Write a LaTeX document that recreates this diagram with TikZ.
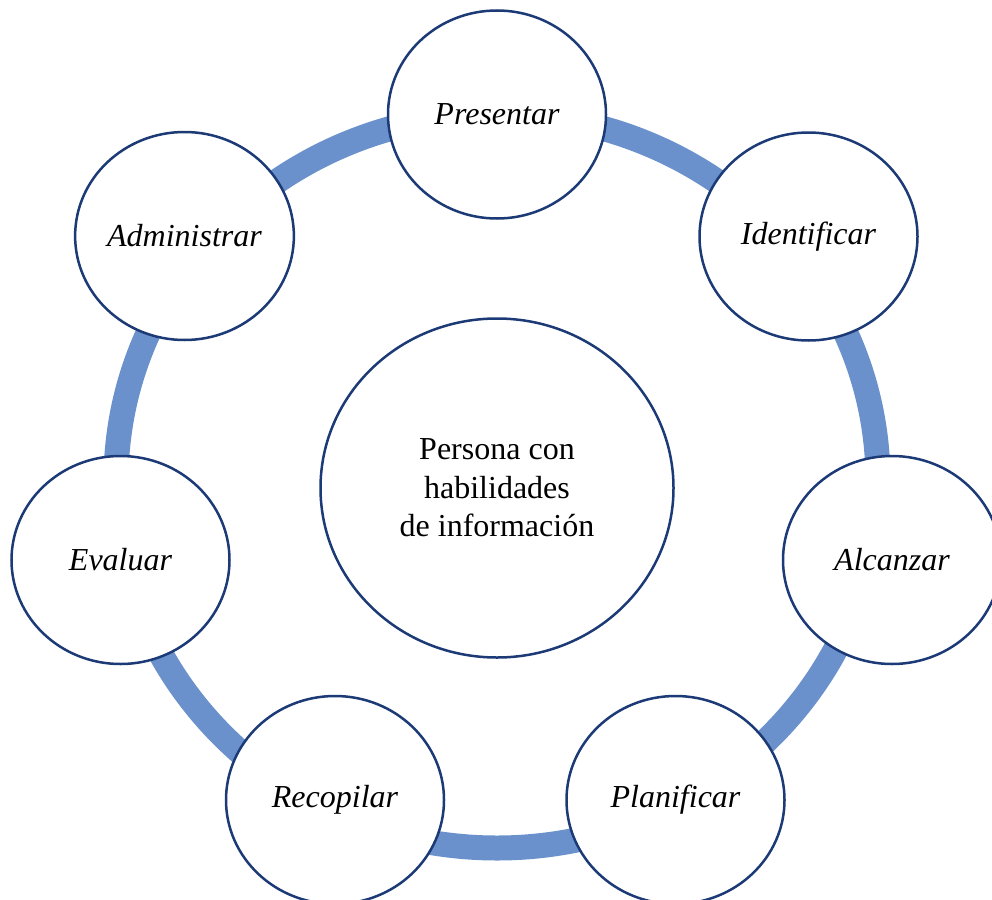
\documentclass[tikz,border=0pt]{standalone}
\usepackage{fontspec}
\setmainfont{Liberation Serif}
\usetikzlibrary{shapes.geometric}
\definecolor{ringblue}{HTML}{6A91CB}
\definecolor{rimblue}{HTML}{1C3A76}
\begin{document}
\begin{tikzpicture}[x=1pt,y=-1pt,
  stage/.style={ellipse, draw=rimblue, line width=2.5pt, fill=white,
    minimum width=218pt, minimum height=208pt, inner sep=0pt,
    font=\fontsize{32}{38.4}\selectfont\itshape},
  hub/.style={ellipse, draw=rimblue, line width=2.5pt, fill=white,
    minimum width=353pt, minimum height=339pt, inner sep=0pt, align=center,
    font=\fontsize{32}{38.4}\selectfont},
  band/.style={draw=ringblue, line width=25pt}]
  \useasboundingbox[fill=white] (0,0) rectangle (992,899);
  \clip (0,0) rectangle (992,899);
  % the cycle ring behind the stages
  \draw[band] (497,481) ellipse [x radius=381pt, y radius=367pt];
  % central node
  \node[hub] (hub) at (497,488) {Persona con\\habilidades\\de información};
  % the seven stages around the ring
  \node[stage] (pres) at (497,114.5) {Presentar};
  \node[stage] (iden) at (808.5,236.5) {Identificar};
  \node[stage] (alca) at (892,560) {Alcanzar};
  \node[stage] (plan) at (675.5,800) {Planificar};
  \node[stage] (reco) at (335,800) {Recopilar};
  \node[stage] (eval) at (120.5,560) {Evaluar};
  \node[stage] (admi) at (184.5,236) {Administrar};
\end{tikzpicture}
\end{document}
